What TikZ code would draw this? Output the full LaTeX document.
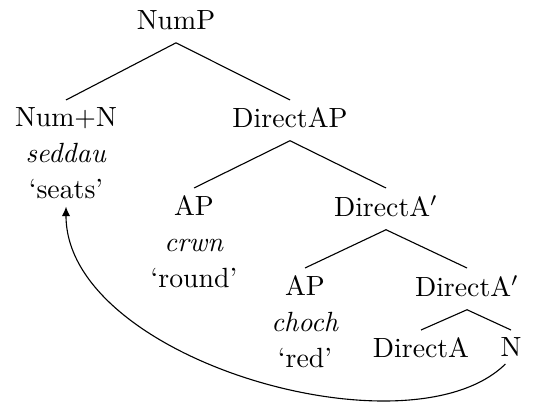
\documentclass[tikz,border=0pt]{standalone}
\usetikzlibrary{arrows.meta}
\tikzset{
  tnode/.style={inner sep=2.5pt, align=center, anchor=north,
                font=\fontsize{10}{13}\selectfont},
  branch/.style={thin},
  move/.style={thin, -{Latex[length=3.5pt,width=3pt]}},
}
\newcommand{\lexnode}[3]{#1\\\textit{#2}\\`#3'}% label, word, gloss

\begin{document}
\begin{tikzpicture}[x=0.36pt, y=0.36pt]
\useasboundingbox (0,0) rectangle (533,-406);

% nodes
\node[tnode] (nump) at (176,-3) {NumP};
\node[tnode] (numn) at (66,-100) {\lexnode{Num+N}{seddau}{seats}};
\node[tnode] (dap) at (290,-100) {DirectAP};
\node[tnode] (apa) at (194,-188) {\lexnode{AP}{crwn}{round}};
\node[tnode] (dab) at (386,-188) {DirectA$'$};
\node[tnode] (apb) at (305,-268) {\lexnode{AP}{choch}{red}};
\node[tnode] (dac) at (467,-268) {DirectA$'$};
\node[tnode] (da) at (421,-330) {DirectA};
\node[tnode] (n) at (511,-330) {N};

% branches
\draw[branch] ([yshift=-2pt]nump.south) -- (numn.north);
\draw[branch] ([yshift=-2pt]nump.south) -- (dap.north);
\draw[branch] ([yshift=-2pt]dap.south) -- (apa.north);
\draw[branch] ([yshift=-2pt]dap.south) -- (dab.north);
\draw[branch] ([yshift=-2pt]dab.south) -- (apb.north);
\draw[branch] ([yshift=-2pt]dab.south) -- (dac.north);
\draw[branch] ([yshift=-2pt]dac.south) -- (da.north);
\draw[branch] ([yshift=-2pt]dac.south) -- (n.north);

% N moves up to Num
\draw[move] ([xshift=-2pt]n.south) .. controls (410,-458) and (66,-360) .. (numn.south);

\end{tikzpicture}
\end{document}
